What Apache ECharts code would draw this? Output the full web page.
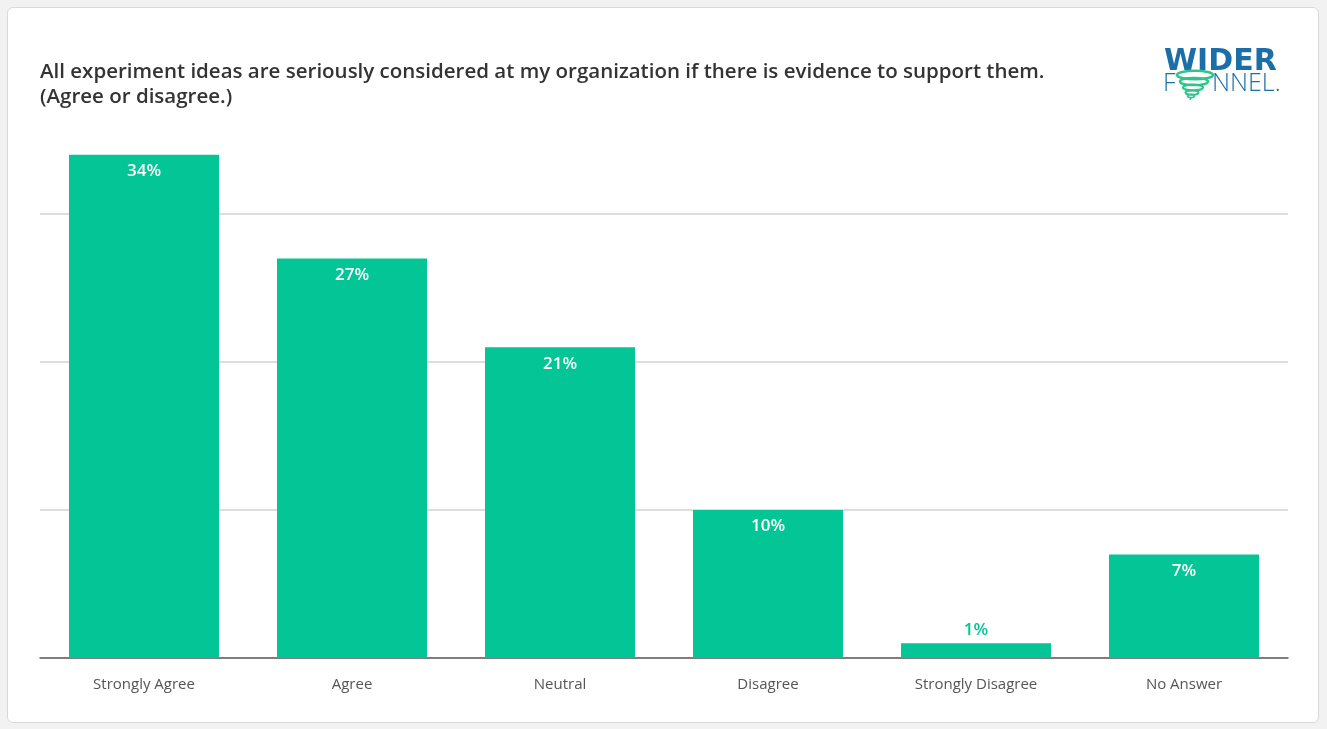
<!DOCTYPE html>
<html>
<head>
<meta charset="utf-8">
<script src="https://cdn.jsdelivr.net/npm/echarts@6/dist/echarts.min.js"></script>
<style>
  html, body { margin: 0; padding: 0; background: #f2f2f2; width: 1327px; height: 729px; overflow: hidden; }
  #card { position: absolute; left: 7px; top: 7px; width: 1312px; height: 716px; background: #fff;
          border: 1px solid #d9d9d9; border-radius: 6px; box-sizing: border-box; }
  #chart { position: absolute; left: 0; top: 0; width: 1327px; height: 729px; }
</style>
</head>
<body>
<div id="card"></div>
<div id="chart"></div>
<script>
const categories = ['Strongly Agree', 'Agree', 'Neutral', 'Disagree', 'Strongly Disagree', 'No Answer'];
const shares = [34, 27, 21, 10, 1, 7];
const titleLines = [
  'All experiment ideas are seriously considered at my organization if there is evidence to support them.',
  '(Agree or disagree.)'
];

const green = '#03c595';
const logoBlue = '#1b6ea8';
const swirlGreen = '#2fc48a';

const chart = echarts.init(document.getElementById('chart'), null, { renderer: 'canvas' });

// Tiny bars cannot hold their label inside, so it sits on top in the bar colour.
const barData = shares.map(v => {
  if (v < 3) {
    return { value: v, label: { position: 'top', color: green, distance: 5 } };
  }
  return v;
});

// Funnel swirl used as the "U" of the logo.
const swirl = [
  { cx: 19, cy: 4, rx: 18, ry: 4.2, w: 2.6 },
  { cx: 18, cy: 10.5, rx: 14, ry: 3.6, w: 2.4 },
  { cx: 17, cy: 16.5, rx: 10, ry: 3, w: 2.2 },
  { cx: 16, cy: 21.5, rx: 6.5, ry: 2.3, w: 2 },
  { cx: 15, cy: 25, rx: 3.5, ry: 1.6, w: 1.6 }
].map(e => ({
  type: 'ellipse',
  shape: { cx: e.cx, cy: e.cy, rx: e.rx, ry: e.ry },
  style: { fill: 'none', stroke: swirlGreen, lineWidth: e.w }
}));
swirl.push({ type: 'line', shape: { x1: 15, y1: 26.5, x2: 14, y2: 29 }, style: { stroke: swirlGreen, lineWidth: 1.4 } });

chart.setOption({
  backgroundColor: 'transparent',
  animation: false,
  grid: { left: 40, right: 39, top: 66, bottom: 71, containLabel: false },
  graphic: [
    {
      type: 'text', left: 40, top: 60,
      style: { text: titleLines.join('\n'), font: '600 20.5px "Open Sans"', fill: '#333', lineHeight: 25 }
    },
    {
      type: 'text', x: 1164, y: 47, scaleX: 1.0,
      style: { text: 'WIDER', font: 'bold 30px "DejaVu Sans"', fill: logoBlue }
    },
    {
      type: 'text', x: 1163, y: 71,
      style: { text: 'F', font: '300 25px "Open Sans"', fill: logoBlue }
    },
    {
      type: 'group', x: 1176, y: 71,
      children: swirl
    },
    {
      type: 'text', x: 1212, y: 71,
      style: { text: 'NNEL.', font: '300 25px "Open Sans"', fill: logoBlue }
    }
  ],
  xAxis: {
    type: 'category',
    data: categories,
    axisLine: { show: true, lineStyle: { color: '#555', width: 1.5 } },
    axisTick: { show: false },
    axisLabel: { color: '#555', fontSize: 15, fontFamily: 'Open Sans', margin: 19 }
  },
  yAxis: {
    type: 'value',
    min: 0, max: 40, interval: 10,
    axisLabel: { show: false },
    axisLine: { show: false },
    axisTick: { show: false },
    splitLine: { show: true, showMinLine: false, showMaxLine: false, lineStyle: { color: '#d2d2d2', width: 1.5 } }
  },
  series: [{
    type: 'bar',
    data: barData,
    barWidth: 150,
    itemStyle: { color: green },
    label: {
      show: true,
      position: 'insideTop',
      distance: 8,
      formatter: '{c}%',
      color: '#fff',
      fontSize: 17,
      fontFamily: 'Open Sans',
      fontWeight: 600
    }
  }]
});
</script>
</body>
</html>
